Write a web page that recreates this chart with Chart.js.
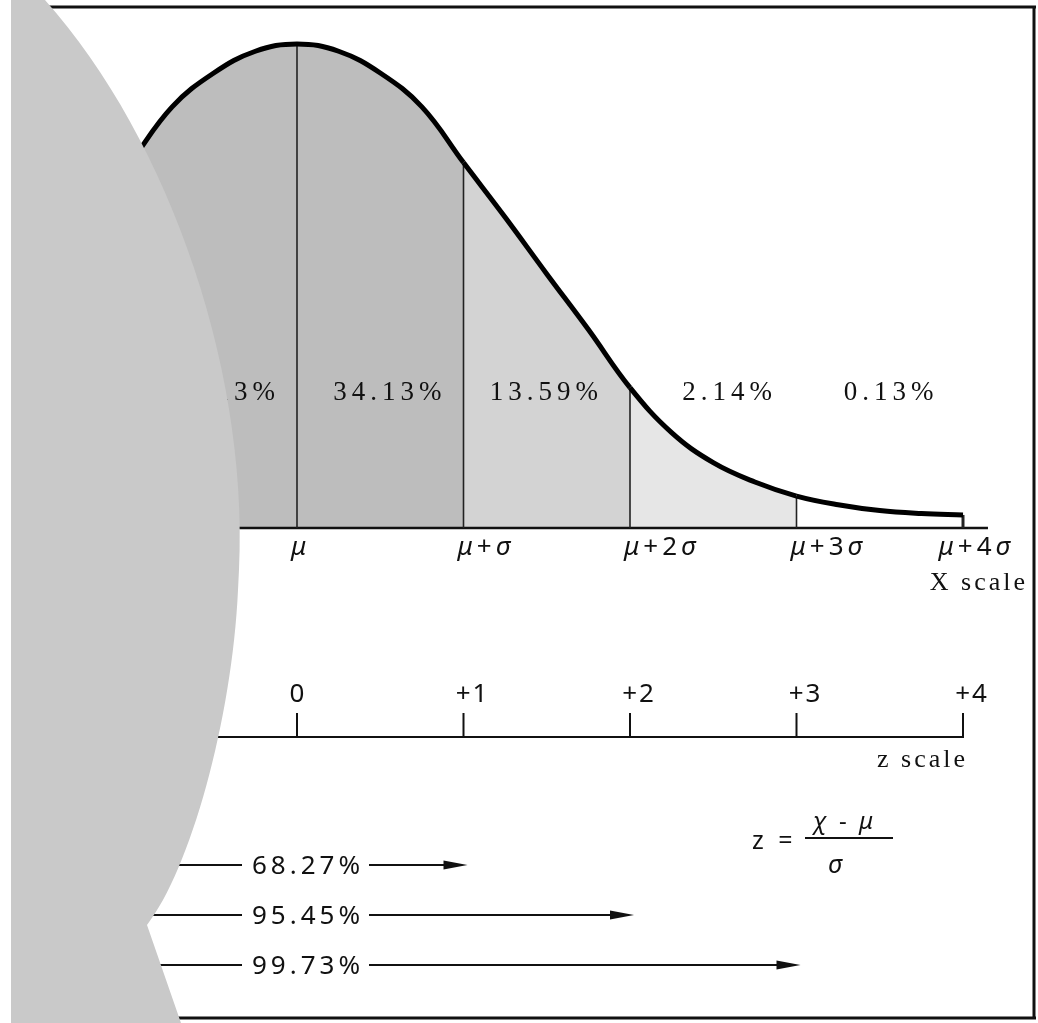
<!DOCTYPE html>
<html>
<head>
<meta charset="utf-8">
<title>Normal curve</title>
<script src="https://cdn.jsdelivr.net/npm/chart.js@4.4.0/dist/chart.umd.min.js"></script>
<style>
  html, body { margin: 0; padding: 0; background: #fff; }
  #wrap { width: 1038px; height: 1023px; position: relative; }
</style>
</head>
<body>
<div id="wrap"><canvas id="normalCurve"></canvas></div>
<script>
// curve height (peak = 1) at every quarter sigma
const zPoints = [-1.75, -1.5, -1.25, -1, -0.75, -0.5, -0.25, 0, 0.25, 0.5, 0.75, 1,
                 1.25, 1.5, 1.75, 2, 2.25, 2.5, 2.75, 3, 3.25, 3.5, 3.75, 4]
const curveHeights = [0.41, 0.525, 0.642, 0.755, 0.87, 0.94, 0.985, 1, 0.985, 0.94, 0.87, 0.755,
                      0.642, 0.525, 0.41, 0.29, 0.197, 0.135, 0.095, 0.066, 0.048, 0.036, 0.03, 0.027]

const sigmaTicks = [0, 1, 2, 3, 4]
const xScaleLabels = ["μ", "μ+σ", "μ+2σ", "μ+3σ", "μ+4σ"]
const zScaleLabels = ["0", "+1", "+2", "+3", "+4"]

const bandCenters = [-0.46, 0.54, 1.48, 2.58, 3.55]
const bandLabels = ["34.13%", "34.13%", "13.59%", "2.14%", "0.13%"]

const spanLimits = [1, 2, 3]
const spanLabels = ["68.27%", "95.45%", "99.73%"]

// page geometry (pixels)
const W = 1038, H = 1023
const MU_PX = 297, SIGMA_PX = 166.5
const BASE_PX = 528, PEAK_PX = 44
const UNIT = BASE_PX - PEAK_PX

const SERIF = "'Liberation Serif', 'Times New Roman', serif"
const SANS = "'Noto Sans', 'Open Sans', sans-serif"

const heightAt = z => curveHeights[zPoints.indexOf(z)]

const bandFill = z => {
    if (z < 1) return "#bdbdbd"
    if (z < 2) return "#d3d3d3"
    if (z < 3) return "#e6e6e6"
    return "rgba(255,255,255,0)"
}

const curveData = zPoints.map((z, i) => ({x: z, y: curveHeights[i]}))

const verticals = sigmaTicks.map(z => ({
    data: [{x: z, y: 0}, {x: z, y: heightAt(z)}],
    borderColor: "#222",
    borderWidth: z === 4 ? 3 : 1.6,
    pointRadius: 0,
    fill: false
}))

const text = (ctx, str, x, y, font, align, spacing) => {
    ctx.font = font
    ctx.textAlign = align || "left"
    ctx.textBaseline = "alphabetic"
    ctx.letterSpacing = (spacing || 0) + "px"
    ctx.fillStyle = "#111"
    ctx.fillText(str, x, y)
    ctx.letterSpacing = "0px"
}

// greek letters in italic, the rest upright
const isGreek = ch => /[\u0370-\u03ff]/.test(ch)
const mixedWidth = (ctx, str, size, spacing) => {
    let w = 0
    for (const ch of str) {
        ctx.font = (isGreek(ch) ? "italic " : "") + size + "px " + SANS
        w += ctx.measureText(ch).width + spacing
    }
    return w - spacing
}
const mixedText = (ctx, str, x, y, size, spacing) => {
    let cx = x
    ctx.textAlign = "left"
    ctx.textBaseline = "alphabetic"
    ctx.fillStyle = "#111"
    for (const ch of str) {
        ctx.font = (isGreek(ch) ? "italic " : "") + size + "px " + SANS
        ctx.fillText(ch, cx, y)
        cx += ctx.measureText(ch).width + spacing
    }
}

const line = (ctx, x1, y1, x2, y2, w) => {
    ctx.beginPath()
    ctx.moveTo(x1, y1)
    ctx.lineTo(x2, y2)
    ctx.lineWidth = w
    ctx.strokeStyle = "#111"
    ctx.stroke()
}

// labels, second scale, formula, span arrows, frame and the grey cover on the left
const decorations = {
    id: "decorations",
    afterDraw(chart) {
        const ctx = chart.ctx
        const xs = chart.scales.x
        const px = z => xs.getPixelForValue(z)

        ctx.save()

        // frame
        line(ctx, 0, 7, 1036, 7, 3)
        line(ctx, 1034, 6, 1034, 1019, 3)
        line(ctx, 0, 1018, 1036, 1018, 3)

        // band percentages
        bandLabels.forEach((lab, i) => text(ctx, lab, px(bandCenters[i]) + 3, 400, "27px " + SERIF, "center", 5))

        // X scale labels
        xScaleLabels.forEach((lab, i) => {
            const w = mixedWidth(ctx, lab, 26, 4)
            let left = px(sigmaTicks[i]) - 6
            if (left + w > 1010) left = 1010 - w
            mixedText(ctx, lab, left, 555, 26, 4)
        })
        text(ctx, "X scale", 1028, 590, "26px " + SERIF, "right", 3)

        // z scale
        const zy = 737
        line(ctx, 0, zy, px(4), zy, 2)
        sigmaTicks.forEach((z, i) => {
            line(ctx, px(z), zy + 1, px(z), zy - 24, 2)
            const off = zScaleLabels[i].length > 1 ? 9 : 1
            text(ctx, zScaleLabels[i], px(z) + off, 702, "26px " + SANS, "center", 2)
        })
        text(ctx, "z scale", 968, 767, "26px " + SERIF, "right", 3)

        // z formula
        text(ctx, "z =", 752, 849, "25px " + SANS, "left", 4)
        line(ctx, 805, 838, 893, 838, 2)
        mixedText(ctx, "χ - μ", 813, 829, 24, 3)
        mixedText(ctx, "σ", 828, 873, 25, 0)

        // span arrows
        const rows = [865, 915, 965]
        spanLabels.forEach((lab, i) => {
            const y = rows[i]
            const tip = px(spanLimits[i]) + 4
            line(ctx, 0, y, 242, y, 2)
            text(ctx, lab, 252, y + 9, "26px " + SANS, "left", 4)
            line(ctx, 369, y, tip - 18, y, 2)
            ctx.beginPath()
            ctx.moveTo(tip, y)
            ctx.lineTo(tip - 24, y - 4.5)
            ctx.lineTo(tip - 24, y + 4.5)
            ctx.closePath()
            ctx.fillStyle = "#111"
            ctx.fill()
        })

        // grey cover over the left side, white margin beside it
        ctx.fillStyle = "#fff"
        ctx.fillRect(0, 0, 11, H)
        ctx.beginPath()
        ctx.moveTo(11, 0)
        ctx.lineTo(45, 0)
        ctx.bezierCurveTo(170, 140, 254, 380, 238, 590)
        ctx.bezierCurveTo(232, 720, 190, 870, 147, 925)
        ctx.lineTo(181, H)
        ctx.lineTo(11, H)
        ctx.closePath()
        ctx.fillStyle = "#c9c9c9"
        ctx.fill()

        ctx.restore()
    }
}

new Chart(document.getElementById("normalCurve"), {
    type: "line",
    data: {
        datasets: [
            {
                data: curveData,
                borderColor: "#000",
                borderWidth: 5,
                pointRadius: 0,
                tension: 0.4,
                fill: "origin",
                backgroundColor: "#bdbdbd",
                segment: {
                    backgroundColor: c => bandFill(c.p0.parsed.x)
                }
            },
            ...verticals,
            {
                data: [{x: -1.8, y: 0}, {x: 4.15, y: 0}],
                borderColor: "#111",
                borderWidth: 2.6,
                pointRadius: 0,
                fill: false
            }
        ]
    },
    options: {
        responsive: true,
        maintainAspectRatio: false,
        animation: false,
        layout: {padding: 0},
        scales: {
            x: {type: "linear", display: false, min: -MU_PX / SIGMA_PX, max: (W - MU_PX) / SIGMA_PX},
            y: {type: "linear", display: false, min: -(H - BASE_PX) / UNIT, max: BASE_PX / UNIT}
        },
        plugins: {
            legend: {display: false},
            tooltip: {enabled: false},
            filler: {drawTime: "beforeDatasetsDraw"}
        }
    },
    plugins: [decorations]
})
</script>
</body>
</html>
